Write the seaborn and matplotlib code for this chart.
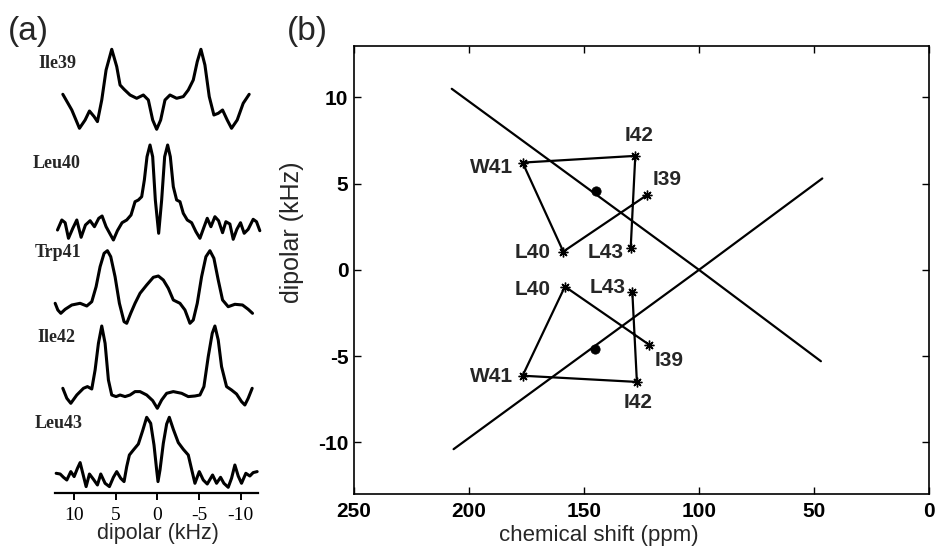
import matplotlib
matplotlib.use("Agg")
import matplotlib.pyplot as plt
import numpy as np
import pandas as pd
import seaborn as sns

sns.set_theme(style="white")
plt.rcParams["font.family"] = ["Liberation Sans", "DejaVu Sans"]

# ---------------- (a) dipolar spectra: frequency (kHz) / intensity (a.u.)
ile39_khz = [11.36, 10.28, 9.36, 8.68, 8.16, 7.6, 7.2, 6.68, 6.16, 5.48, 4.88, 4.48, 4.0, 3.28,
             2.48, 1.68, 1.08, 0.56, 0.08, -0.4, -0.92, -1.52, -2.32, -3.12, -3.72, -4.32, -4.8,
             -5.24, -5.72, -6.24, -6.8, -7.32, -7.84, -8.4, -8.92, -9.6, -10.32, -11.04]
ile39_int = [3.5, 1.93, 0.1, 0.93, 1.83, 1.27, 0.77, 2.93, 5.93, 8.0, 6.27, 4.43, 4.0, 3.43,
             3.1, 3.43, 2.93, 0.93, 0.0, 0.93, 2.93, 3.43, 3.1, 3.27, 3.93, 4.93, 6.77,
             8.0, 6.43, 3.27, 1.43, 1.6, 1.93, 0.93, 0.1, 0.93, 2.6, 3.5]

leu40_khz = [12.0, 11.48, 11.08, 10.68, 10.16, 9.68, 9.16, 8.64, 8.08, 7.56, 7.04, 6.64, 6.16,
             5.68, 5.28, 4.8, 4.24, 3.68, 3.16, 2.68, 2.28, 1.88, 1.56, 1.24, 0.88, 0.56, 0.24,
             -0.16, -0.52, -0.88, -1.24, -1.56, -1.92, -2.32, -2.72, -3.12, -3.6, -4.12, -4.64,
             -5.12, -5.6, -6.0, -6.44, -6.92, -7.36, -7.84, -8.24, -8.72, -9.12, -9.56, -10.0,
             -10.44, -10.92, -11.52, -11.92, -12.32]
leu40_int = [1.0, 2.0, 1.73, 0.17, 1.17, 2.0, 0.27, 1.5, 1.93, 1.33, 2.17, 2.4, 1.33,
             0.6, 0.0, 0.93, 1.73, 2.0, 2.5, 3.83, 4.0, 4.33, 6.0, 8.33, 9.5, 8.33, 4.0,
             0.67, 4.0, 8.33, 9.5, 8.33, 5.33, 4.0, 3.83, 2.67, 2.0, 1.73, 0.83,
             0.17, 1.27, 2.17, 1.33, 2.33, 1.93, 0.73, 1.83, 1.6, 0.07, 1.07, 1.73,
             0.67, 1.07, 2.07, 1.83, 0.93]

trp41_khz = [12.28, 11.96, 11.6, 11.08, 10.28, 9.28, 8.48, 7.88, 7.36, 6.88, 6.4, 6.0, 5.6,
             5.08, 4.56, 4.0, 3.68, 3.2, 2.68, 2.08, 1.28, 0.48, -0.12, -0.72, -1.32, -1.92,
             -2.72, -3.32, -3.92, -4.32, -4.8, -5.32, -5.84, -6.32, -6.8, -7.32, -7.84, -8.52,
             -9.32, -10.24, -10.92, -11.44]
trp41_int = [2.17, 1.5, 1.17, 1.57, 2.0, 2.17, 1.9, 2.33, 3.83, 5.83, 7.17, 7.43, 6.83,
             4.83, 2.17, 0.33, 0.17, 1.17, 2.17, 3.17, 4.0, 4.77, 4.9, 4.5, 3.67, 2.5,
             2.17, 1.5, 0.17, 0.5, 2.17, 4.83, 6.83, 7.43, 6.67, 4.5, 2.5, 1.83,
             2.07, 2.0, 1.57, 1.17]

ile42_khz = [11.36, 10.88, 10.4, 9.68, 8.88, 8.4, 7.88, 7.48, 7.08, 6.68, 6.28, 5.88, 5.48,
             4.96, 4.48, 3.88, 3.28, 2.68, 2.08, 1.28, 0.56, 0.0, -0.52, -1.12, -1.92, -2.92,
             -3.72, -4.52, -5.12, -5.6, -6.12, -6.6, -6.92, -7.32, -7.72, -8.32, -8.92, -9.52,
             -10.12, -10.52, -10.92, -11.4]
ile42_int = [2.0, 1.0, 0.5, 1.33, 2.0, 2.17, 1.93, 3.83, 6.5, 8.23, 6.5, 2.83, 1.33,
             1.17, 1.33, 1.17, 1.33, 1.67, 1.67, 1.33, 0.77, 0.0, 0.83, 1.5, 1.67, 1.5,
             1.17, 1.23, 1.33, 2.17, 5.17, 7.5, 8.23, 6.83, 4.17, 2.17, 1.83, 1.43,
             0.67, 0.33, 1.0, 2.0]

leu43_khz = [12.16, 11.68, 11.28, 10.88, 10.4, 10.0, 9.6, 9.28, 8.96, 8.56, 8.16, 7.68, 7.2,
             6.8, 6.28, 5.76, 5.28, 4.88, 4.4, 4.0, 3.68, 3.36, 2.88, 2.28, 1.76, 1.28, 0.8,
             0.4, 0.08, -0.08, -0.32, -0.72, -1.12, -1.44, -1.92, -2.52, -3.12, -3.72, -4.12,
             -4.52, -5.04, -5.52, -6.0, -6.64, -7.12, -7.6, -8.0, -8.52, -8.92, -9.32, -9.72,
             -10.12, -10.64, -11.12, -11.52, -12.0]
leu43_int = [1.5, 1.43, 1.1, 0.83, 1.67, 1.17, 2.0, 2.57, 1.5, 0.17, 1.43, 0.9, 0.33,
             1.43, 0.5, 0.17, 1.1, 1.67, 1.0, 0.67, 2.17, 3.33, 3.83, 4.43, 5.77, 7.1, 6.5,
             4.33, 1.83, 0.67, 1.83, 4.5, 6.43, 7.1, 5.9, 4.57, 3.9, 3.33, 1.9,
             0.5, 1.67, 0.83, 0.43, 1.33, 0.5, 1.1, 0.5, 0.1, 1.0, 2.33, 1.23,
             0.5, 1.5, 1.23, 1.57, 1.67]

spectrum_names = ["Ile39", "Leu40", "Trp41", "Ile42", "Leu43"]
khz_tick_labels = ["10", "5", "0", "-5", "-10"]

# ---------------- (b) PISA wheel: chemical shift (ppm) / dipolar coupling (kHz)
residues = ["I39", "L40", "W41", "I42", "L43"]
upper_ppm = [122.5, 159.0, 176.7, 127.7, 129.7]
upper_khz = [4.35, 1.06, 6.22, 6.61, 1.26]
lower_ppm = [121.6, 158.3, 176.7, 127.0, 129.0]
lower_khz = [-4.35, -0.97, -6.14, -6.5, -1.26]
center_ppm = [144.8, 145.2]
center_khz = [4.6, -4.6]
upper_ref_ppm = [207.5, 100.0, 47.0]
upper_ref_khz = [10.5, 0.0, -5.3]
lower_ref_ppm = [206.7, 100.0, 46.4]
lower_ref_khz = [-10.4, 0.0, 5.3]
ppm_ticks = [250, 200, 150, 100, 50, 0]
khz_ticks = [-10, -5, 0, 5, 10]

W, H = 935, 546
fig = plt.figure(figsize=(W / 100, H / 100), dpi=100)
fig.patch.set_facecolor("white")


def px_box(x0, y0, x1, y1):
    return [x0 / W, 1 - y1 / H, (x1 - x0) / W, (y1 - y0) / H]


# ---------- panel (a)
ax_a = fig.add_axes(px_box(55, 40, 258, 493.3))
spectra = [(ile39_khz, ile39_int), (leu40_khz, leu40_int), (trp41_khz, trp41_int),
           (ile42_khz, ile42_int), (leu43_khz, leu43_int)]
offsets = [36.4, 25.33, 16.83, 8.5, 0.5]
for name, (kx, ki), off in zip(spectrum_names, spectra, offsets):
    df = pd.DataFrame({"khz": kx, "y": np.asarray(ki) + off})
    sns.lineplot(data=df, x="khz", y="y", ax=ax_a, sort=False, estimator=None,
                 color="black", linewidth=2.2, clip_on=False,
                 solid_joinstyle="round", solid_capstyle="round")
ax_a.set_xlim(12.3, -12.1)
ax_a.set_ylim(0, 45.33)
for s in ["left", "right", "top"]:
    ax_a.spines[s].set_visible(False)
ax_a.spines["bottom"].set_linewidth(1.6)
ax_a.spines["bottom"].set_color("black")
ax_a.set_yticks([])
ax_a.set_xticks([10, 5, 0, -5, -10])
ax_a.set_xticklabels(khz_tick_labels, fontfamily="Liberation Serif", fontsize=14)
ax_a.tick_params(axis="x", direction="out", length=5, width=1.4, pad=5, colors="black",
                 bottom=True)
ax_a.set_xlabel("dipolar (kHz)", fontsize=15.5)
ax_a.xaxis.set_label_coords(0.505, -0.0665)
ax_a.set_ylabel("")

label_pos = [(38, 67.7), (33, 168), (35, 257), (37, 341.7), (35, 428)]
for name, (lx, ly) in zip(spectrum_names, label_pos):
    fig.text(lx / W, 1 - ly / H, name, fontfamily="Liberation Serif", fontweight="bold",
             fontsize=13, va="baseline", ha="left")

fig.text(8 / W, 1 - 16 / H, "(a)", fontsize=24, va="top", ha="left")
fig.text(287 / W, 1 - 16 / H, "(b)", fontsize=24, va="top", ha="left")

# ---------- panel (b)
ax_b = fig.add_axes(px_box(354, 45.7, 929, 494))
for rp, rk in [(upper_ref_ppm, upper_ref_khz), (lower_ref_ppm, lower_ref_khz)]:
    sns.lineplot(x=rp, y=rk, ax=ax_b, sort=False, estimator=None, color="black", linewidth=1.6)

for pp, kk in [(upper_ppm, upper_khz), (lower_ppm, lower_khz)]:
    sns.lineplot(x=pp, y=kk, ax=ax_b, sort=False, estimator=None, color="black",
                 linewidth=1.6, marker=(8, 2, 0), markersize=7, markeredgewidth=1.0,
                 markeredgecolor="black")

sns.scatterplot(x=center_ppm, y=center_khz, ax=ax_b, color="black", s=45, zorder=5,
                edgecolor="black")

upper_offsets = {"I39": ((4, 11), "left", "center"), "L40": ((-9, -0.5), "right", "center"),
                 "W41": ((-7, -3.6), "right", "center"), "I42": ((3, 8), "center", "bottom"),
                 "L43": ((-5, -3), "right", "center")}
lower_offsets = {"I39": ((4, -11), "left", "center"), "L40": ((-10, -2), "right", "center"),
                 "W41": ((-7, -0.7), "right", "center"), "I42": ((1, -8), "center", "top"),
                 "L43": ((-5, 3), "right", "center")}
for pp, kk, offs in [(upper_ppm, upper_khz, upper_offsets), (lower_ppm, lower_khz, lower_offsets)]:
    for r, x, y in zip(residues, pp, kk):
        (dx, dy), ha, va = offs[r]
        ax_b.annotate(r, xy=(x, y), xytext=(dx, dy), textcoords="offset points",
                      ha=ha, va=va, fontsize=15, fontweight="bold")

ax_b.set_xlim(250, 0)
ax_b.set_ylim(-13, 13)
ax_b.set_xticks(ppm_ticks)
ax_b.set_xticklabels([str(t) for t in ppm_ticks])
ax_b.set_yticks(khz_ticks)
ax_b.set_yticklabels([str(t) for t in khz_ticks])
ax_b.tick_params(direction="in", length=5, width=1.0, top=True, right=True, bottom=True,
                 left=True, labelsize=15, colors="black")
ax_b.tick_params(axis="x", pad=6)
ax_b.tick_params(axis="y", pad=4)
for lab in ax_b.get_xticklabels() + ax_b.get_yticklabels():
    lab.set_fontweight("bold")
for s in ax_b.spines.values():
    s.set_linewidth(1.2)
    s.set_color("black")
ax_b.set_xlabel("chemical shift (ppm)", fontsize=16)
ax_b.xaxis.set_label_coords(0.426, -0.069)
ax_b.set_ylabel("dipolar (kHz)", fontsize=18, va="center")
ax_b.yaxis.set_label_coords(-0.1083, 0.584)

fig.savefig("out.png", dpi=100, facecolor="white")
